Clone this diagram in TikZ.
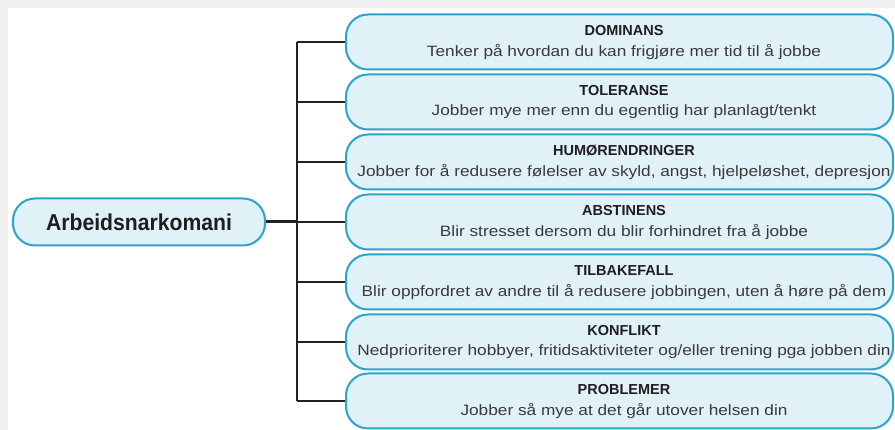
\documentclass[tikz,border=0pt]{standalone}
\usepackage{fontspec}
\setmainfont{Liberation Sans}
\newfontfamily\descfont[FakeStretch=1.15]{Liberation Sans}
\newfontfamily\mainfont[FakeStretch=0.92]{Liberation Sans}
\definecolor{bg}{HTML}{EFEFEF}
\definecolor{boxfill}{HTML}{E1F1F8}
\definecolor{boxline}{HTML}{2AA5CD}
\definecolor{txt}{HTML}{3A3A3A}
\definecolor{ttl}{HTML}{1E1E1E}
\definecolor{conn}{HTML}{222222}
\tikzset{
  item/.style={draw=boxline, line width=2pt, fill=boxfill, rounded corners=22pt,
    minimum width=547pt, minimum height=55pt, inner sep=0pt},
  mainbox/.style={draw=boxline, line width=2pt, fill=boxfill, rounded corners=22pt,
    minimum width=252pt, minimum height=47pt, inner sep=0pt,
    font=\mainfont\fontsize{23}{27}\selectfont\bfseries, text=ttl},
  ttltext/.style={font=\fontsize{14.5}{16}\selectfont\bfseries, text=ttl, inner sep=0pt},
  desctext/.style={font=\descfont\fontsize{15}{17}\selectfont, text=txt, inner sep=0pt},
  link/.style={draw=conn, line width=2pt},
}
\begin{document}
\begin{tikzpicture}[x=1pt,y=-1pt]
\useasboundingbox (0,0) rectangle (895,430);
\fill[bg] (0,0) rectangle (895,430);
\fill[white] (8,8) rectangle (895,430);

\node[mainbox] (m) at (139,222) {Arbeidsnarkomani};

\node[item] (b1) at (619.5,42) {};
\node[item] (b2) at (619.5,102) {};
\node[item] (b3) at (619.5,162) {};
\node[item] (b4) at (619.5,222) {};
\node[item] (b5) at (619.5,282) {};
\node[item] (b6) at (619.5,342) {};
\node[item] (b7) at (619.5,401) {};

\node[ttltext] (t1) at (624,31) {DOMINANS};
\node[desctext] (d1) at (624,52) {Tenker på hvordan du kan frigjøre mer tid til å jobbe};
\node[ttltext] (t2) at (624,91) {TOLERANSE};
\node[desctext] (d2) at (624,112) {Jobber mye mer enn du egentlig har planlagt/tenkt};
\node[ttltext] (t3) at (624,151) {HUMØRENDRINGER};
\node[desctext] (d3) at (624,172) {Jobber for å redusere følelser av skyld, angst, hjelpeløshet, depresjon};
\node[ttltext] (t4) at (624,211) {ABSTINENS};
\node[desctext] (d4) at (624,232) {Blir stresset dersom du blir forhindret fra å jobbe};
\node[ttltext] (t5) at (624,271) {TILBAKEFALL};
\node[desctext] (d5) at (624,292) {Blir oppfordret av andre til å redusere jobbingen, uten å høre på dem};
\node[ttltext] (t6) at (624,331) {KONFLIKT};
\node[desctext] (d6) at (624,352) {Nedprioriterer hobbyer, fritidsaktiviteter og/eller trening pga jobben din};
\node[ttltext] (t7) at (624,390) {PROBLEMER};
\node[desctext] (d7) at (624,411) {Jobber så mye at det går utover helsen din};

\coordinate (j) at (297,222);
\draw[link, line width=3pt] (m.east) -- (j);
\draw[link, line width=2.5pt] (j |- b1.west) -- (j |- b7.west);
\foreach \i in {1,...,7} {
  \draw[link] (j |- b\i.west) -- (b\i.west);
}
\end{tikzpicture}
\end{document}
